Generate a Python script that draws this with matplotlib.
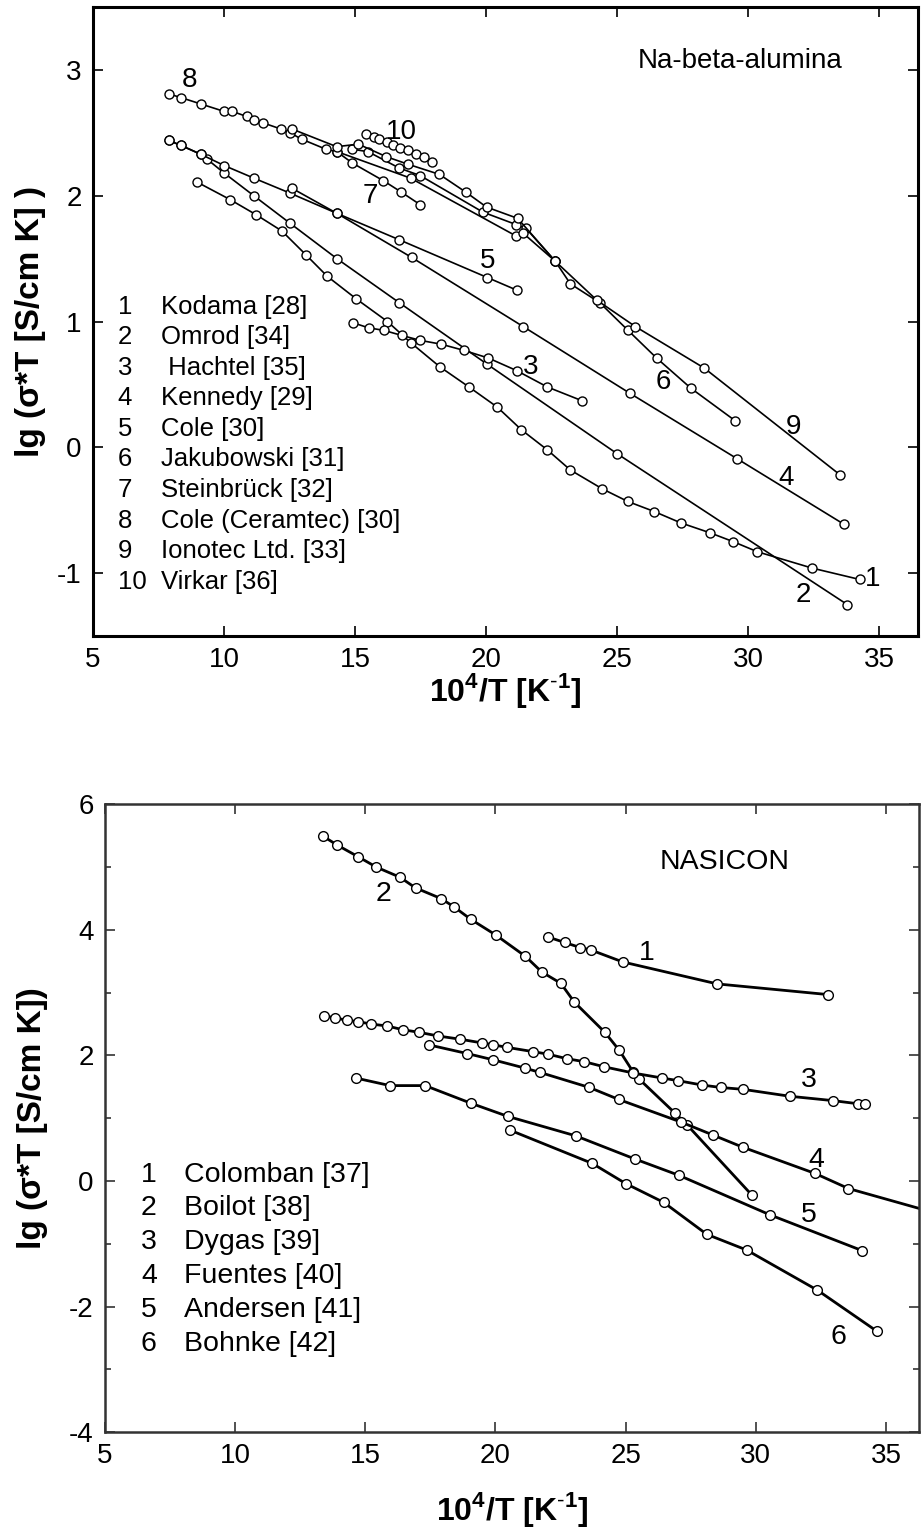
import numpy as np
import matplotlib
matplotlib.use('Agg')
import matplotlib.pyplot as plt

plt.rcParams['font.family'] = ['Liberation Sans', 'DejaVu Sans']
plt.rcParams['mathtext.fontset'] = 'custom'
plt.rcParams['mathtext.rm'] = 'Liberation Sans'
plt.rcParams['mathtext.bf'] = 'Liberation Sans:bold'
plt.rcParams['axes.unicode_minus'] = False

# --- Na-beta-alumina (top panel) ---
na_names = ['Kodama [28]', 'Omrod [34]', ' Hachtel [35]', 'Kennedy [29]', 'Cole [30]',
            'Jakubowski [31]', 'Steinbrück [32]', 'Cole (Ceramtec) [30]', 'Ionotec Ltd. [33]', 'Virkar [36]']

na1_x = [8.96, 10.23, 11.22, 12.21, 13.13, 13.94, 15.05, 16.24, 17.14, 18.24, 19.35, 20.43, 21.35,
         22.34, 23.22, 24.44, 25.41, 26.42, 27.43, 28.56, 29.44, 30.36, 32.45, 34.26]
na1_y = [2.11, 1.97, 1.85, 1.72, 1.53, 1.36, 1.18, 1.00, 0.83, 0.64, 0.48, 0.32, 0.14,
         -0.02, -0.18, -0.33, -0.43, -0.51, -0.60, -0.68, -0.75, -0.83, -0.96, -1.05]
na2_x = [7.89, 8.36, 9.11, 9.36, 10.01, 11.14, 12.53, 14.31, 16.69, 20.05, 25.0, 33.79]
na2_y = [2.44, 2.40, 2.33, 2.29, 2.18, 2.00, 1.78, 1.50, 1.15, 0.66, -0.05, -1.25]
na3_x = [14.93, 15.52, 16.10, 16.78, 17.50, 18.29, 19.17, 20.09, 21.17, 22.34, 23.67]
na3_y = [0.99, 0.95, 0.93, 0.89, 0.85, 0.82, 0.77, 0.71, 0.61, 0.48, 0.37]
na4_x = [7.89, 8.36, 9.11, 10.01, 11.14, 12.53, 14.31, 17.16, 21.42, 25.49, 29.58, 33.65]
na4_y = [2.44, 2.40, 2.33, 2.24, 2.14, 2.02, 1.86, 1.51, 0.96, 0.43, -0.09, -0.61]
na5_x = [12.59, 14.31, 16.69, 20.05, 21.17]
na5_y = [2.06, 1.86, 1.65, 1.35, 1.25]
na6_x = [14.90, 15.50, 16.69, 17.49, 19.88, 21.16, 21.53, 22.64, 23.22, 24.34, 25.42, 26.51, 27.82, 29.52]
na6_y = [2.37, 2.35, 2.22, 2.16, 1.87, 1.77, 1.74, 1.48, 1.30, 1.15, 0.93, 0.71, 0.47, 0.21]
na7_x = [14.31, 14.90, 16.08, 16.76, 17.48]
na7_y = [2.35, 2.26, 2.12, 2.03, 1.93]
na8_x = [7.89, 8.36, 9.11, 10.01, 10.32, 10.87, 11.15, 11.48, 12.18, 12.53, 12.96, 13.89, 14.32,
         17.12, 21.15, 21.43, 22.64]
na8_y = [2.81, 2.78, 2.73, 2.67, 2.67, 2.63, 2.60, 2.58, 2.53, 2.50, 2.45, 2.37, 2.35,
         2.14, 1.68, 1.70, 1.48]
na9_x = [12.60, 14.30, 15.13, 16.20, 17.03, 18.22, 19.22, 20.02, 21.21, 22.64, 24.23, 25.70, 28.33, 33.52]
na9_y = [2.53, 2.39, 2.41, 2.31, 2.25, 2.17, 2.03, 1.91, 1.82, 1.48, 1.17, 0.96, 0.63, -0.22]
na10_x = [15.41, 15.73, 15.93, 16.21, 16.46, 16.73, 17.04, 17.32, 17.62, 17.93]
na10_y = [2.49, 2.47, 2.45, 2.43, 2.40, 2.38, 2.36, 2.33, 2.31, 2.27]

na_lbl = ['1', '2', '3', '4', '5', '6', '7', '8', '9', '10']
na_lbl_x = [34.77, 32.12, 21.71, 31.46, 20.05, 26.78, 15.59, 8.69, 31.73, 16.76]
na_lbl_y = [-1.05, -1.17, 0.64, -0.24, 1.48, 0.52, 2.00, 2.92, 0.16, 2.51]

# --- NASICON (bottom panel) ---
ns_names = ['Colomban [37]', 'Boilot [38]', 'Dygas [39]', 'Fuentes [40]', 'Andersen [41]', 'Bohnke [42]']

ns1_x = [22.0, 22.66, 23.25, 23.67, 24.89, 28.52, 32.78]
ns1_y = [3.89, 3.80, 3.72, 3.68, 3.49, 3.14, 2.97]
ns2_x = [13.39, 13.93, 14.71, 15.43, 16.33, 16.93, 17.91, 18.40, 19.05, 20.01, 21.15, 21.78, 22.51,
         23.03, 24.20, 24.76, 25.30, 25.53, 26.90, 27.37, 29.84]
ns2_y = [5.49, 5.35, 5.17, 5.00, 4.84, 4.67, 4.50, 4.37, 4.17, 3.92, 3.58, 3.33, 3.15,
         2.85, 2.37, 2.08, 1.73, 1.62, 1.08, 0.89, -0.22]
ns3_x = [13.42, 13.84, 14.29, 14.71, 15.23, 15.84, 16.44, 17.06, 17.80, 18.63, 19.48, 19.92, 20.43, 21.46,
         22.03, 22.73, 23.42, 24.17, 25.30, 26.41, 27.0, 27.92, 28.65, 29.52, 31.31, 32.98, 33.94, 34.2]
ns3_y = [2.63, 2.60, 2.56, 2.54, 2.50, 2.47, 2.41, 2.37, 2.31, 2.26, 2.20, 2.17, 2.13, 2.06,
         2.02, 1.95, 1.90, 1.82, 1.72, 1.64, 1.60, 1.53, 1.49, 1.46, 1.35, 1.28, 1.23, 1.23]
ns4_x = [17.43, 18.92, 19.92, 21.12, 21.71, 23.61, 24.73, 27.12, 28.37, 29.49, 32.28, 33.56, 37.5]
ns4_y = [2.17, 2.03, 1.93, 1.80, 1.73, 1.49, 1.30, 0.94, 0.73, 0.54, 0.12, -0.12, -0.58]
ns5_x = [14.64, 15.95, 17.30, 19.05, 20.47, 23.08, 25.36, 27.05, 30.55, 34.09]
ns5_y = [1.64, 1.52, 1.52, 1.24, 1.03, 0.72, 0.35, 0.09, -0.54, -1.11]
ns6_x = [20.56, 23.72, 25.0, 26.46, 28.12, 29.65, 32.37, 34.64]
ns6_y = [0.81, 0.28, -0.04, -0.34, -0.85, -1.10, -1.74, -2.39]

ns_lbl = ['1', '2', '3', '4', '5', '6']
ns_lbl_x = [25.81, 15.69, 32.02, 32.34, 32.02, 33.17]
ns_lbl_y = [3.63, 4.58, 1.61, 0.33, -0.54, -2.48]

xticks = [5, 10, 15, 20, 25, 30, 35]
xlab = r'10$^{\mathbf{4}}$/T [K$^{\mathbf{\text{-}1}}$]'


def style_axes(ax, spine_col, spine_w):
    for s in ax.spines.values():
        s.set_linewidth(spine_w)
        s.set_color(spine_col)
    ax.tick_params(direction='in', top=True, right=True, length=7, width=1.2,
                   labelsize=20, pad=8, color=spine_col)
    ax.tick_params(which='minor', direction='in', top=True, right=True, length=4, width=1.2,
                   color=spine_col)


fig = plt.figure(figsize=(9.24, 15.29), dpi=100)

# top panel
ax1 = fig.add_axes([0.1006, 0.584, 0.893, 0.4114])
na_series = [(na1_x, na1_y), (na2_x, na2_y), (na3_x, na3_y), (na4_x, na4_y), (na5_x, na5_y),
             (na6_x, na6_y), (na7_x, na7_y), (na8_x, na8_y), (na9_x, na9_y), (na10_x, na10_y)]
for xs, ys in na_series:
    ax1.plot(xs, ys, '-o', color='black', lw=1.2, ms=6.5, mfc='white', mec='black', mew=1.0)
for t, x, y in zip(na_lbl, na_lbl_x, na_lbl_y):
    ax1.text(x, y, t, fontsize=20, ha='center', va='center')
for i, nm in enumerate(na_names):
    yy = 1.116 - i * 0.2425
    ax1.text(5.95, yy, str(i + 1), fontsize=18.5, ha='left', va='center')
    ax1.text(7.6, yy, nm, fontsize=18.5, ha='left', va='center')
ax1.text(29.7, 3.07, 'Na-beta-alumina', fontsize=20, ha='center', va='center')
ax1.set_xlim(5, 36.49)
ax1.set_ylim(-1.5, 3.5)
ax1.set_xticks(xticks)
ax1.set_yticks([-1, 0, 1, 2, 3])
style_axes(ax1, 'black', 2.2)
ax1.set_xlabel(xlab, fontsize=23, fontweight='bold')
ax1.set_ylabel('lg (σ*T [S/cm K] )', fontsize=24, fontweight='bold')
ax1.xaxis.set_label_coords(0.5, -0.055)
ax1.yaxis.set_label_coords(-0.057, 0.5)

# bottom panel
ax2 = fig.add_axes([0.1136, 0.0634, 0.881, 0.4105])
ns_series = [(ns1_x, ns1_y), (ns2_x, ns2_y), (ns3_x, ns3_y), (ns4_x, ns4_y), (ns5_x, ns5_y), (ns6_x, ns6_y)]
for xs, ys in ns_series:
    ax2.plot(xs, ys, '-o', color='black', lw=2.0, ms=7, mfc='white', mec='black', mew=1.0)
for t, x, y in zip(ns_lbl, ns_lbl_x, ns_lbl_y):
    ax2.text(x, y, t, fontsize=20.5, ha='center', va='center')
for i, nm in enumerate(ns_names):
    yy = 0.10 - i * 0.538
    ax2.text(6.38, yy, str(i + 1), fontsize=20.5, ha='left', va='center')
    ax2.text(8.04, yy, nm, fontsize=20.5, ha='left', va='center')
ax2.text(28.8, 5.08, 'NASICON', fontsize=20.5, ha='center', va='center')
ax2.set_xlim(5, 36.27)
ax2.set_ylim(-4, 6)
ax2.set_xticks(xticks)
ax2.set_yticks([-4, -2, 0, 2, 4, 6])
ax2.set_yticks([-3, -1, 1, 3, 5], minor=True)
style_axes(ax2, '#333333', 1.8)
ax2.set_xlabel(xlab, fontsize=23, fontweight='bold')
ax2.set_ylabel('lg (σ*T [S/cm K])', fontsize=24, fontweight='bold')
ax2.xaxis.set_label_coords(0.5, -0.092)
ax2.yaxis.set_label_coords(-0.07, 0.5)

fig.savefig('out.png', dpi=100)
